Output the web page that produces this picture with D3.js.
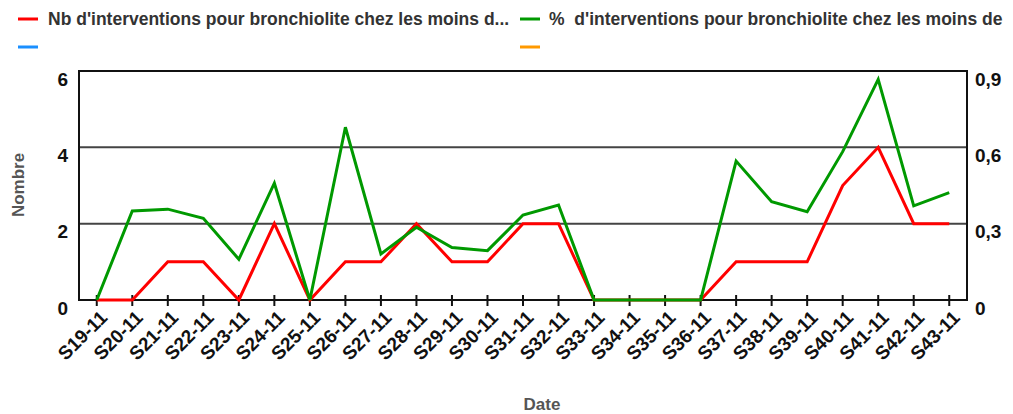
<!DOCTYPE html>
<html>
<head>
	<meta charset="utf-8">
	<script src="https://d3js.org/d3.v7.min.js"></script>
	<style>
		body { margin: 0; background: #fff; }
		text { font-family: "Liberation Sans", Arial, sans-serif; font-weight: bold; white-space: pre; }
	</style>
</head>
<body>
	<div class="chart"></div>
	<script>
		var weeks = ["S19-11","S20-11","S21-11","S22-11","S23-11","S24-11","S25-11","S26-11","S27-11","S28-11","S29-11","S30-11","S31-11","S32-11","S33-11","S34-11","S35-11","S36-11","S37-11","S38-11","S39-11","S40-11","S41-11","S42-11","S43-11"];
		var nbInterventions = [0,0,1,1,0,2,0,1,1,2,1,1,2,2,0,0,0,0,1,1,1,3,4,2,2];
		var pctInterventions = [0,0.35,0.357,0.321,0.16,0.459,0,0.679,0.181,0.286,0.206,0.194,0.334,0.373,0,0,0,0,0.546,0.386,0.347,0.583,0.867,0.37,0.422];
		var leftTicks = [0,2,4,6];
		var rightTicks = [0,0.3,0.6,0.9];
		var legendItems = [
			{label: "Nb d'interventions pour bronchiolite chez les moins d...", color: "#ff0000", col: 0, row: 0},
			{label: "%  d'interventions pour bronchiolite chez les moins de", color: "#009900", col: 1, row: 0},
			{label: "", color: "#1a8fff", col: 0, row: 1},
			{label: "", color: "#ff9900", col: 1, row: 1}
		];

		var w = 1013, h = 414;
		var pL = 79, pR = 967, pT = 71, pB = 300;

		var svg = d3.select(".chart").append("svg")
			.attr("width", w)
			.attr("height", h);

		var x = d3.scalePoint().domain(weeks).range([pL, pR]).padding(0.5);
		var yL = d3.scaleLinear().domain([0, 6]).range([pB, pT]);
		var yR = d3.scaleLinear().domain([0, 0.9]).range([pB, pT]);

		// grid
		svg.append("g").selectAll("line")
			.data(leftTicks.filter(function(d) { return d > 0 && d < 6; }))
			.enter().append("line")
			.attr("x1", pL).attr("x2", pR)
			.attr("y1", function(d) { return yL(d); })
			.attr("y2", function(d) { return yL(d); })
			.attr("stroke", "#444").attr("stroke-width", 2);

		// box
		svg.append("rect")
			.attr("x", pL).attr("y", pT)
			.attr("width", pR - pL).attr("height", pB - pT)
			.attr("fill", "none").attr("stroke", "#111").attr("stroke-width", 2);

		// x ticks crossing the axis
		svg.append("g").selectAll("line")
			.data(weeks)
			.enter().append("line")
			.attr("x1", function(d) { return x(d); })
			.attr("x2", function(d) { return x(d); })
			.attr("y1", pB - 5).attr("y2", pB + 6)
			.attr("stroke", "#111").attr("stroke-width", 2);

		// x labels
		svg.append("g").selectAll("text")
			.data(weeks)
			.enter().append("text")
			.attr("transform", function(d) { return "translate(" + (x(d) + 7) + "," + (pB + 14) + ") rotate(-45)"; })
			.attr("text-anchor", "end")
			.attr("dy", "0.35em")
			.attr("font-size", 19)
			.attr("fill", "#111")
			.text(function(d) { return d; });

		// y labels
		svg.append("g").selectAll("text")
			.data(leftTicks)
			.enter().append("text")
			.attr("x", 68)
			.attr("y", function(d) { return yL(d) + 8; })
			.attr("dy", "0.35em")
			.attr("text-anchor", "end")
			.attr("font-size", 19)
			.attr("fill", "#111")
			.text(function(d) { return d; });

		svg.append("g").selectAll("text")
			.data(rightTicks)
			.enter().append("text")
			.attr("x", 975)
			.attr("y", function(d) { return yR(d) + 8; })
			.attr("dy", "0.35em")
			.attr("font-size", 19)
			.attr("fill", "#111")
			.text(function(d) { return d === 0 ? "0" : String(d).replace(".", ","); });

		// axis titles
		svg.append("text")
			.attr("transform", "translate(24,185) rotate(-90)")
			.attr("text-anchor", "middle")
			.attr("font-size", 17)
			.attr("fill", "#555")
			.text("Nombre");

		svg.append("text")
			.attr("x", 542).attr("y", 410)
			.attr("text-anchor", "middle")
			.attr("font-size", 17)
			.attr("fill", "#555")
			.text("Date");

		// lines
		var lineL = d3.line()
			.x(function(d, i) { return x(weeks[i]); })
			.y(function(d) { return yL(d); });
		var lineR = d3.line()
			.x(function(d, i) { return x(weeks[i]); })
			.y(function(d) { return yR(d); });

		svg.append("path").datum(nbInterventions)
			.attr("d", lineL)
			.attr("fill", "none").attr("stroke", "#ff0000").attr("stroke-width", 3);
		svg.append("path").datum(pctInterventions)
			.attr("d", lineR)
			.attr("fill", "none").attr("stroke", "#009900").attr("stroke-width", 3);

		// legend
		var lg = svg.append("g").selectAll("g")
			.data(legendItems)
			.enter().append("g")
			.attr("transform", function(d) { return "translate(" + (d.col ? 520 : 18) + "," + (d.row ? 47 : 19) + ")"; });
		lg.append("line")
			.attr("x1", 0).attr("x2", 20)
			.attr("stroke", function(d) { return d.color; })
			.attr("stroke-width", 3);
		lg.append("text")
			.attr("x", function(d) { return d.col ? 29 : 30; })
			.attr("dy", "0.35em")
			.attr("font-size", 17.5)
			.attr("fill", "#333")
			.text(function(d) { return d.label; });
	</script>
</body>
</html>
